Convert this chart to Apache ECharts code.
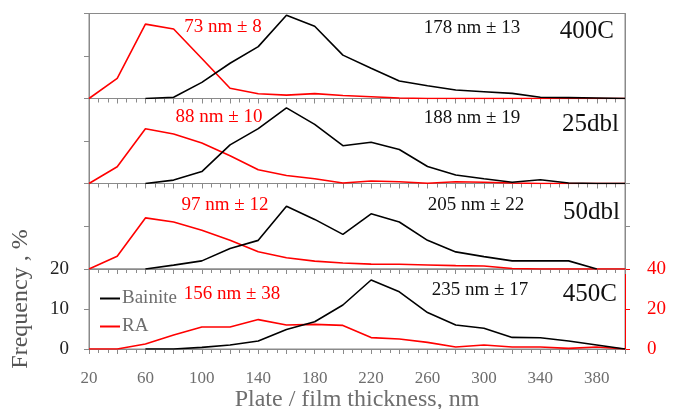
<!DOCTYPE html>
<html><head><meta charset="utf-8">
<script src="https://cdn.jsdelivr.net/npm/echarts@6/dist/echarts.min.js"></script>
<style>html,body{margin:0;padding:0;background:#fff}#c{width:673px;height:409px}</style>
</head><body><div id="c"></div>
<script>
const xs = [20,40,60,80,100,120,140,160,180,200,220,240,260,280,300,320,340,360,380,400];
const xTickLabels = [20,60,100,140,180,220,260,300,340,380];
const panelNames = ['400C','25dbl','50dbl','450C'];
const bainiteMeans = ['178 nm ± 13','188 nm ± 19','205 nm ± 22','235 nm ± 17'];
const raMeans = ['73 nm ± 8','88 nm ± 10','97 nm ± 12','156 nm ± 38'];
const bainite400C = [null,null,0,0.3,3.8,8.3,12.2,19.6,17.0,10.2,7.1,4.1,3.0,2.0,1.6,1.2,0.3,0.2,0.1,0];
const ra400C = [0,9.5,35.0,32.7,18.8,4.8,2.2,1.6,2.3,1.4,0.8,0.2,0,0,0,0,0,0,0,0];
const bainite25dbl = [null,null,0,0.8,2.8,9.1,12.9,17.8,13.9,8.9,9.7,8.0,4.0,2.0,1.1,0.3,0.9,0.1,0,0];
const ra25dbl = [0,7.9,25.8,23.3,19.1,13.1,6.5,3.8,2.2,0.2,1.2,0.8,0.1,0.8,0.6,0.2,0,0,0,0];
const bainite50dbl = [null,null,0,0.9,1.9,4.8,6.7,14.7,11.6,8.1,12.9,11.0,6.7,4.0,2.9,1.9,1.9,1.9,0,null];
const ra50dbl = [0,6.0,23.9,22.0,18.1,13.5,8.1,5.3,3.7,2.8,2.3,2.2,1.9,1.6,1.4,0.2,0,0,0,0];
const bainite450C = [null,null,0,0,0.4,1.0,2.0,4.9,6.8,11.0,17.25,14.3,9.1,6.0,5.2,2.9,2.8,2.0,1.0,0];
const ra450C = [0,0,2.5,7.0,11.0,11.0,14.7,12.0,12.3,11.8,5.7,5.0,3.3,1.0,2.0,1.0,1.0,0.3,1.0,0];

const bainiteSets = [bainite400C,bainite25dbl,bainite50dbl,bainite450C];
const raSets = [ra400C,ra25dbl,ra50dbl,ra450C];

const FONT = 'Liberation Serif';
const GRAY = '#8a8a8a';
const grids = [
  {top:13.5,height:85},
  {top:98.5,height:85},
  {top:183.5,height:85.5},
  {top:269,height:80}
].map(g => ({left:89,right:48,top:g.top,height:g.height,show:true,borderColor:GRAY,borderWidth:1,
  containLabel:false,outerBoundsMode:'none'}));

const xAxes = grids.map((g,i)=>({
  type:'value',gridIndex:i,min:20,max:400,interval:20,
  axisLine:{show:true,lineStyle:{color:GRAY,width:1}},
  axisTick:{show:true,inside:false,length:5,lineStyle:{color:GRAY}},
  minorTick:{show:true,splitNumber:3,length:4,lineStyle:{color:GRAY}},
  splitLine:{show:false},
  axisLabel:{show:i===3,margin:21,color:'#6e6e6e',fontFamily:FONT,fontSize:17,
    formatter:v=>xTickLabels.indexOf(v)>=0?String(v):''},
  name:i===3?'Plate / film thickness, nm':'',nameLocation:'middle',nameGap:37,
  nameTextStyle:{color:'#6e6e6e',fontFamily:FONT,fontSize:24}
}));

const yAxes = [];
grids.forEach((g,i)=>{
  yAxes.push({type:'value',gridIndex:i,position:'left',min:0,max:20,interval:10,
    axisLine:{show:true,lineStyle:{color:GRAY}},
    axisTick:{show:true,length:5,lineStyle:{color:GRAY}},
    splitLine:{show:false},
    axisLabel:{show:i===3,margin:20,color:'#222',fontFamily:FONT,fontSize:19},
    name:i===3?'Frequency , %':'',nameLocation:'middle',nameGap:56,
    nameTextStyle:{color:'#555',fontFamily:FONT,fontSize:24,padding:[0,0,0,20]}
  });
  yAxes.push({type:'value',gridIndex:i,position:'right',min:0,max:40,interval:20,
    axisLine:{show:true,lineStyle:{color:i===3?'#ff0000':GRAY}},
    axisTick:{show:i>=2,length:5,lineStyle:{color:i===3?'#ff0000':GRAY}},
    splitLine:{show:false},
    axisLabel:{show:i===3,margin:22,color:'#ff0000',fontFamily:FONT,fontSize:19}
  });
});

const series = [];
grids.forEach((g,i)=>{
  series.push({name:'RA',type:'line',xAxisIndex:i,yAxisIndex:2*i+1,symbol:'none',
    lineStyle:{color:'#ff0000',width:1.6},itemStyle:{color:'#ff0000'},
    data:xs.map((x,k)=>[x,raSets[i][k]])});
  series.push({name:'Bainite',type:'line',xAxisIndex:i,yAxisIndex:2*i,symbol:'none',
    lineStyle:{color:'#000',width:1.6},itemStyle:{color:'#000'},
    data:xs.map((x,k)=>[x,bainiteSets[i][k]])});
});

const raPos = [[223,27],[219,117],[225,205],[232,294]];
const bPos = [[472,28],[472,118],[476,205],[480,290]];
const namePos = [[614,31],[619,124],[620,212],[617,294]];
const graphics = [];
for(let i=0;i<4;i++){
  graphics.push({type:'text',x:raPos[i][0],y:raPos[i][1],style:{text:raMeans[i],fill:'#ff0000',font:'19px '+FONT,textAlign:'center',textVerticalAlign:'middle'}});
  graphics.push({type:'text',x:bPos[i][0],y:bPos[i][1],style:{text:bainiteMeans[i],fill:'#111',font:'19px '+FONT,textAlign:'center',textVerticalAlign:'middle'}});
  graphics.push({type:'text',x:namePos[i][0],y:namePos[i][1],style:{text:panelNames[i],fill:'#111',font:'25px '+FONT,textAlign:'right',textVerticalAlign:'middle'}});
}

const chart = echarts.init(document.getElementById('c'),null,{renderer:'canvas'});
chart.setOption({
  animation:false,
  grid:grids,xAxis:xAxes,yAxis:yAxes,series:series,
  legend:{data:['Bainite','RA'],orient:'vertical',left:100,top:289,itemWidth:20,itemHeight:2,itemGap:9,
    icon:'rect',textStyle:{color:'#6e6e6e',fontFamily:FONT,fontSize:19,padding:[0,0,0,-3]},padding:0},
  graphic:graphics
});
</script></body></html>
